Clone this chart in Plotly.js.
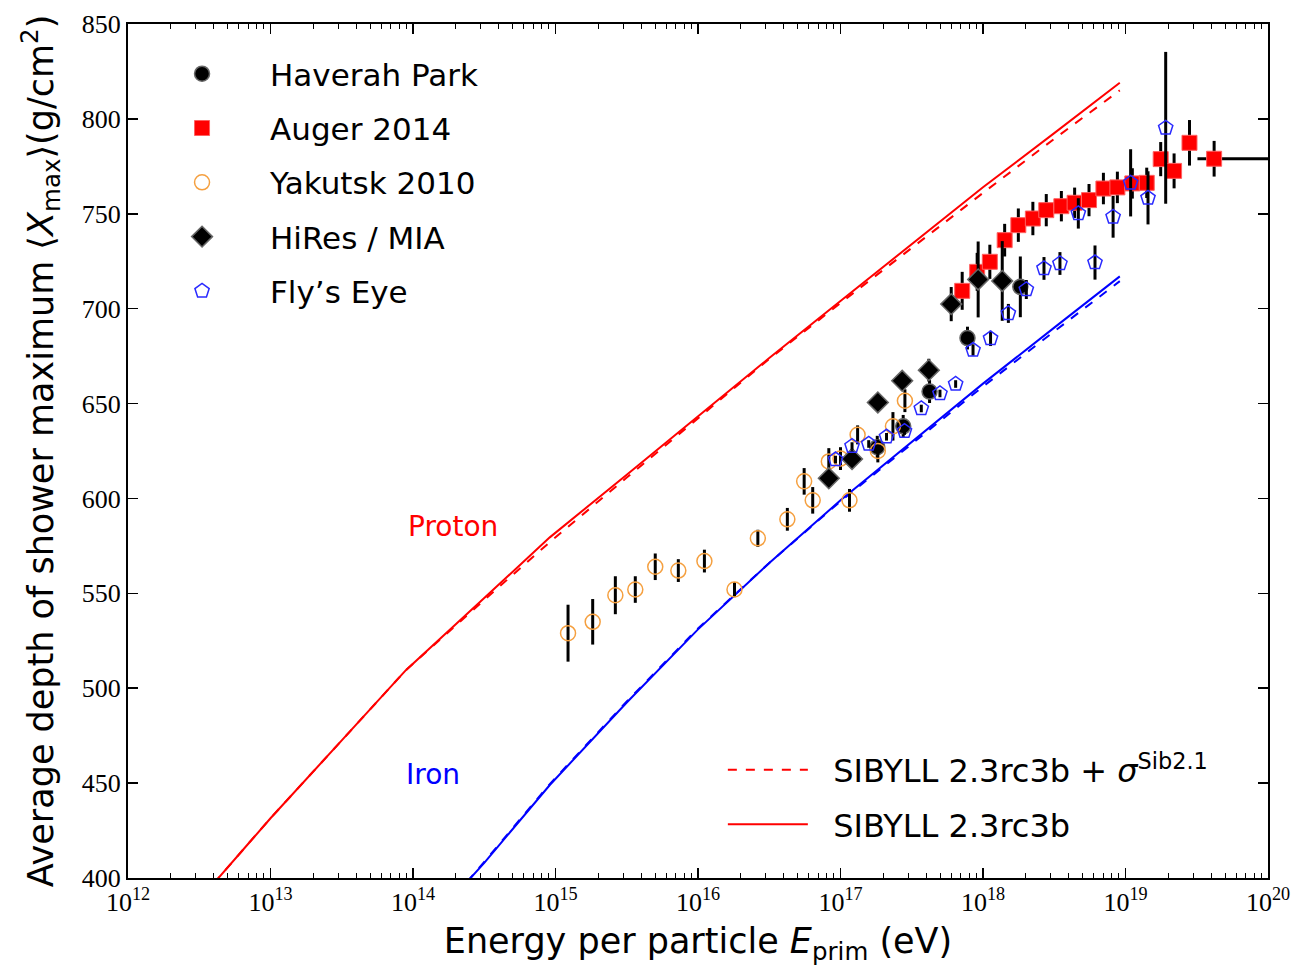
<!DOCTYPE html>
<html>
<head>
<meta charset="utf-8">
<script src="https://cdn.plot.ly/plotly-3.0.1.min.js"></script>
<style>html,body{margin:0;padding:0;background:#fff;}</style>
</head>
<body>
<div id="chart" style="width:1298px;height:974px;"></div>
<script>
// ---- Model curves (log10 E in eV, <Xmax> in g/cm^2) ----
const protonLogE   = [12.6, 13, 13.5, 13.95, 14.5, 14.96, 15.5, 16, 16.5, 17, 17.5, 18, 18.5, 18.96];
const protonSolid  = [397, 431.5, 472.5, 509.5, 547.5, 579.5, 612.5, 643.5, 674, 704, 734, 764, 792.5, 819];
const protonDashed = [397, 431.5, 472.5, 509.5, 546.5, 577, 611, 642.5, 673.5, 703, 732, 761, 789.5, 815];
const ironLogE     = [14.38, 14.5, 14.96, 15.5, 16, 16.5, 17, 17.5, 18, 18.5, 18.96];
const ironSolid    = [398, 408, 449, 492.5, 531, 566, 599, 629.5, 660.5, 690, 717];
const ironDashed   = [398, 408.5, 449.5, 493, 531.5, 566, 598.5, 628.5, 659, 688, 714.5];

// ---- Data sets ----
const haverahLogE = [17.258, 17.44, 17.625, 17.891, 18.262];
const haverahX    = [627, 638, 656.3, 684.5, 711.5];
const haverahErr  = [6, 6, 6, 6, 16];

const augerLogE = [17.854, 17.959, 18.048, 18.152, 18.248, 18.35, 18.444, 18.55, 18.643, 18.744, 18.845, 18.943, 19.048, 19.149, 19.247, 19.341, 19.449, 19.622];
const augerX    = [709.4, 719.4, 724.7, 736.1, 744, 747.5, 751.9, 754, 755.8, 757.2, 763.3, 763.9, 766, 766.3, 778.8, 772.6, 787.4, 779];
const augerErr  = [10, 10, 9, 8.6, 8.8, 8.8, 8.5, 8, 8, 8.5, 8.3, 8.3, 8, 8, 9, 9.2, 12, 9.4];
const augerBinLo = [17.854, 17.959, 18.048, 18.152, 18.248, 18.35, 18.444, 18.55, 18.643, 18.744, 18.845, 18.943, 19.048, 19.149, 19.247, 19.341, 19.449, 19.505];
const augerBinHi = [17.854, 17.959, 18.048, 18.152, 18.248, 18.35, 18.444, 18.55, 18.643, 18.744, 18.845, 18.943, 19.048, 19.149, 19.247, 19.341, 19.449, 20.3];

const yakutskLogE = [15.088, 15.261, 15.42, 15.56, 15.70, 15.862, 16.045, 16.256, 16.42, 16.627, 16.745, 16.805, 16.918, 17.0, 17.063, 17.12, 17.262, 17.368, 17.452];
const yakutskX    = [529, 535, 549, 552, 564, 562, 567, 552, 579, 589, 609, 599, 619.5, 621, 599, 633.5, 625, 638, 651.5];
const yakutskErr  = [15, 12, 10, 7, 7, 6, 6, 4, 4.5, 6, 7, 7, 7, 6, 6, 5, 6, 7.5, 6];

const hiresLogE = [16.918, 17.081, 17.262, 17.433, 17.62, 17.777, 17.966, 18.135];
const hiresX    = [610.6, 620.8, 650.6, 662, 667.6, 702.4, 715.4, 714.6];
const hiresErr  = [4, 5, 4, 5, 6, 9, 20, 21];

const flysLogE = [16.965, 17.081, 17.198, 17.323, 17.449, 17.567, 17.698, 17.808, 17.93, 18.053, 18.178, 18.304, 18.428, 18.54, 18.669, 18.786, 18.913, 19.036, 19.158, 19.282];
const flysX    = [620.5, 627.6, 628.7, 632.5, 635.5, 647.4, 655.3, 660.3, 678.2, 684.3, 697.5, 710.1, 721.2, 723.8, 750.2, 724.3, 748.4, 766.3, 758.4, 795.3];
const flysErr  = [2, 2, 2, 2, 2, 2, 2, 2, 3, 4, 5, 5, 6, 6, 8, 9, 11, 17.7, 14, 40];

const xTickExps = [12, 13, 14, 15, 16, 17, 18, 19, 20];

const E = a => a.map(v => Math.pow(10, v));

const lineTrace = (lx, ly, color, dash, name, legendShow, group) => ({
  x: E(lx), y: ly, type: 'scatter', mode: 'lines', name: name,
  line: {color: color, width: 2, dash: dash},
  showlegend: legendShow, legend: 'legend2', legendgroup: group, hoverinfo: 'skip'
});

const errBar = arr => ({type: 'data', array: arr, visible: true, color: 'black', thickness: 3, width: 0});

const augerE = E(augerLogE);
const augerErrXMinus = augerLogE.map((v, i) => Math.pow(10, v) - Math.pow(10, augerBinLo[i]));
const augerErrXPlus  = augerLogE.map((v, i) => Math.pow(10, augerBinHi[i]) - Math.pow(10, v));

const traces = [
  lineTrace(protonLogE, protonDashed, '#ff0000', 'dash', '\u00a0\u00a0SIBYLL 2.3rc3b + <i>σ</i><sup>Sib2.1</sup>', true, 'l1'),
  lineTrace(protonLogE, protonSolid, '#ff0000', 'solid', '\u00a0\u00a0SIBYLL 2.3rc3b', true, 'l2'),
  lineTrace(ironLogE, ironDashed, '#0000ff', 'dash', 'iron dashed', false, 'l3'),
  lineTrace(ironLogE, ironSolid, '#0000ff', 'solid', 'iron solid', false, 'l4'),
  {
    x: E(haverahLogE), y: haverahX, type: 'scatter', mode: 'markers', name: 'Haverah Park',
    legendgroup: 'g1', legend: 'legend',
    marker: {symbol: 'circle', size: 15, color: 'black', line: {color: '#666', width: 1.5}},
    error_y: errBar(haverahErr)
  },
  {
    x: augerE, y: augerX, type: 'scatter', mode: 'markers', name: 'Auger 2014',
    legendgroup: 'g2', legend: 'legend',
    marker: {symbol: 'square', size: 15, color: '#ff0000', line: {color: '#ff6060', width: 1}},
    error_y: errBar(augerErr),
    error_x: {type: 'data', array: augerErrXPlus, arrayminus: augerErrXMinus, visible: true, color: 'black', thickness: 3, width: 0}
  },
  {
    x: E(yakutskLogE), y: yakutskX, type: 'scatter', mode: 'markers', name: 'Yakutsk 2010',
    legendgroup: 'g3', legend: 'legend',
    marker: {symbol: 'circle-open', size: 15, color: '#f5a040', line: {width: 1.5}},
    error_y: errBar(yakutskErr)
  },
  {
    x: E(hiresLogE), y: hiresX, type: 'scatter', mode: 'markers', name: 'HiRes / MIA',
    legendgroup: 'g4', legend: 'legend',
    marker: {symbol: 'diamond', size: 16, color: 'black', line: {color: '#666', width: 1.5}},
    error_y: errBar(hiresErr)
  },
  {
    x: E(flysLogE), y: flysX, type: 'scatter', mode: 'markers', name: 'Fly’s Eye',
    legendgroup: 'g5', legend: 'legend',
    marker: {symbol: 'pentagon-open', size: 15, color: '#2a2aff', line: {width: 1.5}},
    error_y: errBar(flysErr)
  }
];

const axisCommon = {
  showgrid: false, zeroline: false, showline: true, linecolor: 'black', linewidth: 2,
  mirror: 'allticks', ticks: 'inside', ticklen: 10, tickwidth: 1.5, tickcolor: 'black',
  tickfont: {family: 'Liberation Serif, serif', size: 26, color: 'black'}
};

const layout = {
  width: 1298, height: 974,
  margin: {l: 128, r: 30, t: 24, b: 96},
  paper_bgcolor: 'white', plot_bgcolor: 'white',
  font: {family: 'DejaVu Sans, sans-serif', color: 'black'},
  xaxis: Object.assign({}, axisCommon, {
    type: 'log', range: [12, 20],
    tickmode: 'array',
    tickvals: xTickExps.map(v => Math.pow(10, v)),
    ticktext: xTickExps.map(v => '10<sup>' + v + '</sup>'),
    minor: {ticks: 'inside', ticklen: 5, tickwidth: 1, tickcolor: 'black', dtick: 'D1', showgrid: false},
    title: {text: 'Energy per particle <i>E</i><sub>prim</sub> (eV)', font: {size: 35}, standoff: 12}
  }),
  yaxis: Object.assign({}, axisCommon, {
    range: [400, 850], tick0: 400, dtick: 50,
    title: {text: 'Average depth of shower maximum ⟨<i>X</i><sub>max</sub>⟩(g/cm<sup>2</sup>)', font: {size: 35}, standoff: 18}
  }),
  legend: {
    x: 0.0053, y: 0.973, xanchor: 'left', yanchor: 'top',
    bgcolor: 'rgba(0,0,0,0)', borderwidth: 0,
    font: {size: 31, family: 'DejaVu Sans, sans-serif'},
    itemwidth: 126, tracegroupgap: 11, traceorder: 'grouped'
  },
  legend2: {
    x: 0.5218, y: 0.03, xanchor: 'left', yanchor: 'bottom',
    bgcolor: 'rgba(0,0,0,0)', borderwidth: 0,
    font: {size: 32, family: 'DejaVu Sans, sans-serif'},
    itemwidth: 80, tracegroupgap: 10, traceorder: 'grouped'
  },
  annotations: [
    {text: 'Proton', x: 14.28, y: 585, xref: 'x', yref: 'y', showarrow: false,
     font: {size: 28, color: '#ff0000'}},
    {text: 'Iron', x: 14.14, y: 454.3, xref: 'x', yref: 'y', showarrow: false,
     font: {size: 28, color: '#0000ff'}}
  ]
};

Plotly.newPlot('chart', traces, layout, {displayModeBar: false, staticPlot: true});
</script>
</body>
</html>
